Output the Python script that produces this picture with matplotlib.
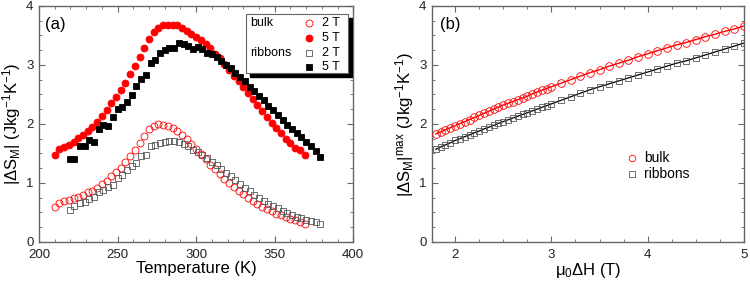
import matplotlib
matplotlib.use("Agg")
import matplotlib.pyplot as plt
from matplotlib.patches import Rectangle
from matplotlib.ticker import MultipleLocator

plt.rcParams["font.family"] = ["Liberation Sans", "DejaVu Sans"]
plt.rcParams["mathtext.fontset"] = "custom"
plt.rcParams["mathtext.rm"] = "Liberation Sans"
plt.rcParams["mathtext.it"] = "Liberation Sans"

# ---- panel (a): |dS_M| vs temperature ----
t_bulk = [210, 213, 216, 219, 222, 225, 228, 231, 234, 237, 240, 243, 246, 249,
          252, 255, 258, 261, 264, 267, 270, 273, 276, 279, 282, 285, 288, 291,
          294, 297, 300, 303, 306, 309, 312, 315, 318, 321, 324, 327, 330, 333,
          336, 339, 342, 345, 348, 351, 354, 357, 360, 363, 366, 369]
bulk_5t = [1.47, 1.57, 1.61, 1.65, 1.70, 1.76, 1.82, 1.88, 1.95, 2.03, 2.13, 2.24,
           2.35, 2.46, 2.58, 2.70, 2.84, 2.99, 3.13, 3.28, 3.44, 3.55, 3.63, 3.67,
           3.67, 3.67, 3.67, 3.63, 3.58, 3.53, 3.48, 3.43, 3.35, 3.28, 3.19, 3.11,
           3.01, 2.92, 2.82, 2.72, 2.62, 2.52, 2.42, 2.32, 2.22, 2.12, 2.02, 1.93,
           1.84, 1.75, 1.67, 1.60, 1.55, 1.47]
bulk_2t = [0.60, 0.66, 0.69, 0.71, 0.74, 0.77, 0.80, 0.84, 0.87, 0.92, 0.98, 1.04,
           1.11, 1.18, 1.26, 1.35, 1.45, 1.55, 1.67, 1.80, 1.91, 1.97, 2.00, 1.99,
           1.97, 1.93, 1.88, 1.82, 1.75, 1.66, 1.58, 1.49, 1.40, 1.31, 1.23, 1.15,
           1.07, 1.00, 0.93, 0.87, 0.81, 0.75, 0.70, 0.65, 0.60, 0.56, 0.52, 0.48,
           0.45, 0.42, 0.39, 0.37, 0.34, 0.30]

t_rib = [220, 222, 226, 229, 232, 235, 238, 241, 244, 247, 250, 253, 256, 259,
         262, 265, 268, 271, 274, 277, 280, 283, 286, 289, 292, 295, 298, 301,
         304, 307, 310, 313, 316, 319, 322, 325, 328, 331, 334, 337, 340, 343,
         346, 349, 352, 355, 358, 361, 364, 367, 370, 373, 376, 379]
rib_5t = [1.40, 1.40, 1.62, 1.62, 1.73, 1.69, 1.91, 1.98, 1.96, 2.11, 2.25, 2.28,
          2.38, 2.49, 2.64, 2.77, 2.83, 3.04, 3.09, 3.20, 3.25, 3.28, 3.29, 3.37,
          3.35, 3.32, 3.27, 3.31, 3.27, 3.20, 3.19, 3.14, 3.07, 3.00, 2.94, 2.87,
          2.80, 2.72, 2.63, 2.56, 2.48, 2.40, 2.31, 2.23, 2.15, 2.07, 1.99, 1.92,
          1.85, 1.78, 1.70, 1.62, 1.54, 1.44]
rib_2t = [0.55, 0.61, 0.66, 0.68, 0.72, 0.76, 0.84, 0.88, 0.93, 0.97, 1.08, 1.13,
          1.22, 1.28, 1.33, 1.45, 1.48, 1.62, 1.65, 1.67, 1.69, 1.71, 1.71, 1.69,
          1.66, 1.62, 1.55, 1.52, 1.48, 1.43, 1.36, 1.30, 1.24, 1.17, 1.11, 1.05,
          0.98, 0.92, 0.86, 0.80, 0.75, 0.70, 0.65, 0.61, 0.57, 0.53, 0.49, 0.46,
          0.43, 0.40, 0.38, 0.36, 0.34, 0.31]

# ---- panel (b): max |dS_M| vs field ----
field = [1.80, 1.85, 1.90, 1.95, 2.00, 2.05, 2.10, 2.15, 2.20, 2.25, 2.30, 2.35,
         2.40, 2.45, 2.50, 2.55, 2.60, 2.65, 2.70, 2.75, 2.80, 2.85, 2.90, 2.95,
         3.00, 3.1, 3.2, 3.3, 3.4, 3.5, 3.6, 3.7, 3.8, 3.9, 4.0, 4.1, 4.2, 4.3,
         4.4, 4.5, 4.6, 4.7, 4.8, 4.9, 5.0]
smax_bulk = [1.83, 1.865, 1.90, 1.935, 1.97, 2.005, 2.04, 2.075, 2.11, 2.145, 2.18,
             2.215, 2.25, 2.285, 2.32, 2.35, 2.38, 2.41, 2.44, 2.47, 2.51, 2.54,
             2.57, 2.60, 2.63, 2.69, 2.75, 2.81, 2.87, 2.92, 2.98, 3.03, 3.08,
             3.14, 3.19, 3.24, 3.29, 3.34, 3.38, 3.43, 3.48, 3.52, 3.57, 3.61, 3.66]
smax_rib = [1.57, 1.61, 1.645, 1.68, 1.72, 1.75, 1.785, 1.815, 1.85, 1.88, 1.915,
            1.945, 1.975, 2.01, 2.04, 2.07, 2.10, 2.13, 2.16, 2.19, 2.22, 2.25,
            2.28, 2.31, 2.34, 2.40, 2.46, 2.52, 2.58, 2.63, 2.68, 2.73, 2.78,
            2.83, 2.88, 2.93, 2.98, 3.03, 3.07, 3.12, 3.17, 3.22, 3.27, 3.32, 3.37]

RED = "#ff0000"
GRAY = "#555555"
SPINE = "#666666"


def style_axes(ax):
    for s in ax.spines.values():
        s.set_color(SPINE)
        s.set_linewidth(1.0)
    ax.tick_params(which="both", direction="in", top=True, right=True,
                   color=SPINE, labelsize=9.5, labelcolor="#222222")
    ax.tick_params(which="major", length=4, width=0.8)
    ax.tick_params(which="minor", length=2, width=0.6)
    ax.tick_params(axis="x", pad=5)
    ax.tick_params(axis="y", pad=4)


fig = plt.figure(figsize=(7.5, 2.82), dpi=100)
ax1 = fig.add_axes([0.052, 0.142, 0.419, 0.837])
ax2 = fig.add_axes([0.576, 0.142, 0.416, 0.837])

# (a)
ax1.plot(t_bulk, bulk_2t, "o", ms=5, mfc="none", mec=RED, mew=0.6)
ax1.plot(t_bulk, bulk_5t, "o", ms=5, mfc=RED, mec=RED, mew=0.6)
ax1.plot(t_rib, rib_2t, "s", ms=4.3, mfc="none", mec=GRAY, mew=0.6)
ax1.plot(t_rib, rib_5t, "s", ms=4.3, mfc="black", mec="black", mew=0.6)
ax1.set_xlim(200, 400)
ax1.set_ylim(0, 4)
ax1.xaxis.set_major_locator(MultipleLocator(50))
ax1.xaxis.set_minor_locator(MultipleLocator(10))
ax1.yaxis.set_major_locator(MultipleLocator(1))
ax1.yaxis.set_minor_locator(MultipleLocator(0.25))
style_axes(ax1)
ax1.set_xlabel("Temperature (K)", fontsize=12, labelpad=0)
ax1.set_ylabel(r"|$\Delta$S$_{M}$| (Jkg$^{-1}$K$^{-1}$)", fontsize=12, labelpad=2)
ax1.text(0.02, 0.92, "(a)", transform=ax1.transAxes, fontsize=12, va="center")

# hand-drawn legend box with shadow, as in the original
shadow = Rectangle((0.672, 0.699), 0.325, 0.25, transform=ax1.transAxes,
                   facecolor="black", edgecolor="black", zorder=5)
box = Rectangle((0.659, 0.716), 0.325, 0.25, transform=ax1.transAxes,
                facecolor="white", edgecolor=SPINE, lw=0.8, zorder=6)
ax1.add_patch(shadow)
ax1.add_patch(box)
rows = [0.928, 0.864, 0.801, 0.742]
styles = [dict(marker="o", ms=5, mfc="none", mec=RED),
          dict(marker="o", ms=5, mfc=RED, mec=RED),
          dict(marker="s", ms=4.3, mfc="none", mec=GRAY),
          dict(marker="s", ms=4.3, mfc="black", mec="black")]
for y, st, lab in zip(rows, styles, ["2 T", "5 T", "2 T", "5 T"]):
    ax1.plot([0.860], [y], transform=ax1.transAxes, ls="none", mew=0.6,
             zorder=7, clip_on=False, **st)
    ax1.text(0.900, y, lab, transform=ax1.transAxes, fontsize=9, va="center",
             zorder=7)
ax1.text(0.672, rows[0], "bulk", transform=ax1.transAxes, fontsize=9,
         va="center", zorder=7)
ax1.text(0.672, rows[2], "ribbons", transform=ax1.transAxes, fontsize=9,
         va="center", zorder=7)

# (b)
ax2.plot(field, smax_bulk, "-", color=RED, lw=1.0, zorder=2)
ax2.plot(field, smax_bulk, "o", ms=5.5, mfc="none", mec=RED, mew=0.6,
         label="bulk", zorder=3)
ax2.plot(field, smax_rib, "-", color="black", lw=0.9, zorder=2)
ax2.plot(field, smax_rib, "s", ms=4.5, mfc="none", mec=GRAY, mew=0.6,
         label="ribbons", zorder=3)
ax2.set_xlim(1.76, 5.0)
ax2.set_ylim(0, 4)
ax2.xaxis.set_major_locator(MultipleLocator(1))
ax2.xaxis.set_minor_locator(MultipleLocator(0.25))
ax2.yaxis.set_major_locator(MultipleLocator(1))
ax2.yaxis.set_minor_locator(MultipleLocator(0.25))
style_axes(ax2)
ax2.set_xlabel(r"$\mu_0$$\Delta$H (T)", fontsize=12, labelpad=0)
ax2.set_ylabel(r"|$\Delta$S$_{M}$|$^{max}$ (Jkg$^{-1}$K$^{-1}$)", fontsize=12,
               labelpad=2)
ax2.text(0.026, 0.92, "(b)", transform=ax2.transAxes, fontsize=12, va="center")
leg = ax2.legend(loc="center left", bbox_to_anchor=(0.6, 0.32), frameon=False,
                 fontsize=10, handletextpad=0.4, labelspacing=0.15,
                 handlelength=1.0, borderaxespad=0, markerscale=0.85)

fig.savefig("out.png", dpi=100)
